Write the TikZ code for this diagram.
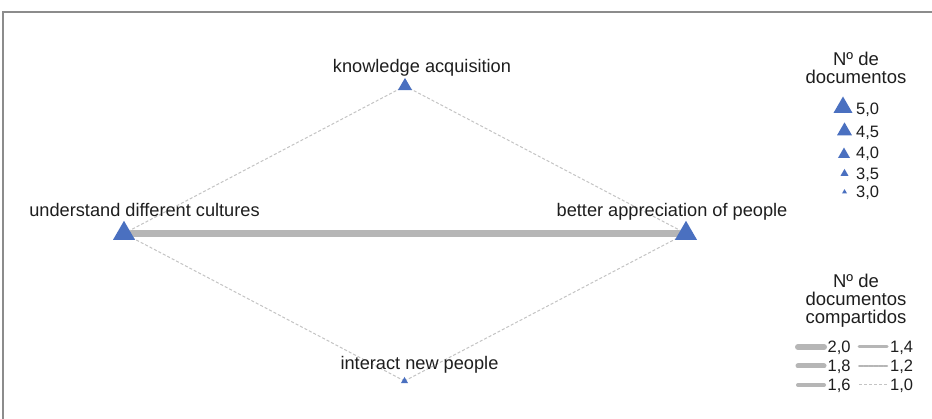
\documentclass[tikz,border=0pt]{standalone}
\usepackage{fontspec}
\setmainfont{Liberation Sans}
\usetikzlibrary{shapes.geometric}
\pgfdeclarelayer{edgelayer}
\pgfsetlayers{edgelayer,main}
\definecolor{triblue}{RGB}{74,112,192}
\definecolor{edgegray}{RGB}{182,182,182}
\definecolor{dashgray}{RGB}{196,196,196}
\definecolor{framegray}{RGB}{140,140,140}
\definecolor{txt}{RGB}{30,30,30}
\begin{document}
\begin{tikzpicture}[x=1pt,y=-1pt,
  tri/.style={regular polygon, regular polygon sides=3, fill=triblue, draw=none, inner sep=0pt, outer sep=0pt, minimum size=#1},
  lab/.style={anchor=base, inner sep=0pt, text=txt, font=\fontsize{18.2}{19}\selectfont},
  num/.style={anchor=west, inner sep=0pt, text=txt, font=\fontsize{16.5}{17}\selectfont},
  ttl/.style={anchor=base, inner sep=0pt, text=txt, align=center, font=\fontsize{18.5}{18}\selectfont},
  strong/.style={draw=edgegray, line width=6.5pt},
  weak/.style={draw=dashgray, line width=1pt, dash pattern=on 3pt off 2pt},
  key/.style={draw=edgegray, line cap=round}
]
\useasboundingbox (0,0) rectangle (932,419);
\begin{pgfonlayer}{edgelayer}
\fill[white] (0,0) rectangle (932,419);
\draw[framegray, line width=1.5pt] (3,440) -- (3,12) -- (950,12);
\end{pgfonlayer}

% nodes
\node[tri=25.4pt] (und) at (124,233.5) {};
\node[tri=25.4pt] (bet) at (686,233.5) {};
\node[tri=16.2pt] (kno) at (405,86) {};
\node[tri=8.1pt] (int) at (404.5,381) {};

% edges
\begin{pgfonlayer}{edgelayer}
\draw[strong] (und.center) -- (bet.center);
\draw[weak] (kno.center) -- (und.center);
\draw[weak] (kno.center) -- (bet.center);
\draw[weak] (int.center) -- (und.center);
\draw[weak] (int.center) -- (bet.center);
\end{pgfonlayer}

% labels
\node[lab] (lkno) at (422,73) {knowledge acquisition};
\node[lab] (lund) at (144.5,217) {understand different cultures};
\node[lab] (lbet) at (672,217) {better appreciation of people};
\node[lab] (lint) at (419.5,370) {interact new people};

% legend 1
\node[ttl] (t1) at (856,84) {Nº de\\documentos};
\node[tri=22pt] (k50) at (843,107.5) {};
\node[tri=17.3pt] (k45) at (844.5,131) {};
\node[tri=13.9pt] (k40) at (844,154.5) {};
\node[tri=9.2pt] (k35) at (844.5,173.5) {};
\node[tri=5.8pt] (k30) at (844.5,192) {};
\node[num] (n50) at (856,110) {5,0};
\node[num] (n45) at (856,132.5) {4,5};
\node[num] (n40) at (856,153.5) {4,0};
\node[num] (n35) at (856,174.5) {3,5};
\node[num] (n30) at (856,193) {3,0};

% legend 2
\node[ttl] (t2) at (856,324) {Nº de\\documentos\\compartidos};
\coordinate (a1) at (798,347); \coordinate (b1) at (824,347);
\coordinate (a2) at (798,366); \coordinate (b2) at (824,366);
\coordinate (a3) at (798,385); \coordinate (b3) at (824,385);
\coordinate (c1) at (859,347); \coordinate (d1) at (887,347);
\coordinate (c2) at (859,366); \coordinate (d2) at (887,366);
\coordinate (c3) at (859,385); \coordinate (d3) at (887,385);
\draw[key, line width=6pt] (a1) -- (b1);
\draw[key, line width=5pt] (a2) -- (b2);
\draw[key, line width=4pt] (a3) -- (b3);
\draw[key, line width=3pt] (c1) -- (d1);
\draw[key, line width=2pt, dash pattern=on 4pt off 1pt] (c2) -- (d2);
\draw[weak] (c3) -- (d3);
\node[num] (m20) at (827.5,347.5) {2,0};
\node[num] (m18) at (827.5,366.5) {1,8};
\node[num] (m16) at (827.5,385.5) {1,6};
\node[num] (m14) at (890,347.5) {1,4};
\node[num] (m12) at (890,366.5) {1,2};
\node[num] (m10) at (890,385.5) {1,0};
\end{tikzpicture}
\end{document}
